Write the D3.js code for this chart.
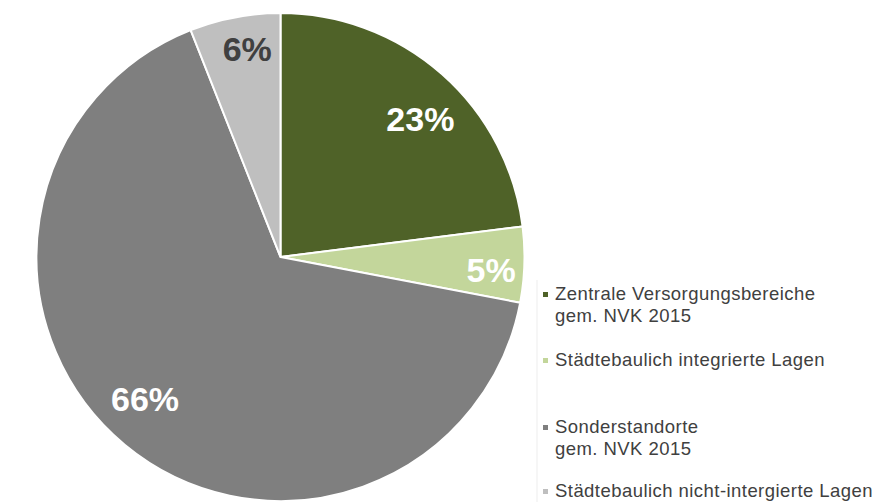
<!DOCTYPE html>
<html>
<head>
<meta charset="utf-8">
<script src="https://cdn.jsdelivr.net/npm/d3@7"></script>
<style>
  html, body { margin: 0; padding: 0; background: #ffffff; }
  svg { display: block; font-family: "Liberation Sans", Arial, sans-serif; }
</style>
</head>
<body>
<svg id="chart" width="877" height="502"></svg>
<script>
// Shares of sales area by location type (percent)
const categories = [
  "Zentrale Versorgungsbereiche\ngem. NVK 2015",
  "Städtebaulich integrierte Lagen",
  "Sonderstandorte\ngem. NVK 2015",
  "Städtebaulich nicht-intergierte Lagen"
];
const values = [23, 5, 66, 6];
const valueLabels = ["23%", "5%", "66%", "6%"];
const colors = ["#4f6228", "#c3d69b", "#7f7f7f", "#bfbfbf"];
const labelColors = ["#ffffff", "#ffffff", "#ffffff", "#404040"];

const svg = d3.select("#chart");
const cx = 280.5, cy = 257, R = 244;

const data = categories.map((c, i) => ({ name: c, value: values[i], label: valueLabels[i], i }));

const pie = d3.pie().value(d => d.value).sort(null);
const arcs = pie(data);
const arc = d3.arc().innerRadius(0).outerRadius(R);

const g = svg.append("g").attr("transform", `translate(${cx},${cy})`);

g.selectAll("path.slice")
  .data(arcs)
  .join("path")
  .attr("class", "slice")
  .attr("d", arc)
  .attr("fill", d => colors[d.data.i])
  .attr("stroke", "#ffffff")
  .attr("stroke-width", 2)
  .attr("stroke-linejoin", "round");

// value labels: thin slices get their label nearer the rim
function isThin(d) {
  return d.data.value / d3.sum(values) < 0.1;
}
g.selectAll("text.val")
  .data(arcs)
  .join("text")
  .attr("class", "val")
  .attr("transform", d => {
    const r = isThin(d) ? R * 0.865 : R * 0.805;
    // nudge the label slightly clockwise from the slice's middle
    const a = (d.startAngle + d.endAngle) / 2 + (isThin(d) ? 0.03 : 0.07);
    return `translate(${r * Math.sin(a)},${-r * Math.cos(a)})`;
  })
  .attr("text-anchor", "middle")
  .attr("dy", "0.36em")
  .attr("font-size", 34)
  .attr("font-weight", "bold")
  .attr("fill", d => labelColors[d.data.i])
  .text(d => d.data.label);

// faint plot-area edge next to the legend
svg.append("line")
  .attr("x1", 537).attr("x2", 537)
  .attr("y1", 280).attr("y2", 502)
  .attr("stroke", "#ededed")
  .attr("stroke-width", 1);

// legend
const legendFirstLine = [300, 366, 433, 497];
const legend = svg.append("g");
const items = legend.selectAll("g.item")
  .data(data)
  .join("g")
  .attr("class", "item")
  .attr("transform", d => `translate(0,${legendFirstLine[d.i]})`);

items.append("rect")
  .attr("x", 543)
  .attr("y", -8)
  .attr("width", 5)
  .attr("height", 5)
  .attr("fill", d => colors[d.i]);

items.append("text")
  .attr("x", 555)
  .attr("y", 0)
  .attr("font-size", 18.5)
  .attr("letter-spacing", 0.45)
  .attr("fill", "#404040")
  .selectAll("tspan")
  .data(d => d.name.split("\n"))
  .join("tspan")
  .attr("x", 555)
  .attr("dy", (t, k) => k === 0 ? 0 : 22)
  .text(t => t);
</script>
</body>
</html>
